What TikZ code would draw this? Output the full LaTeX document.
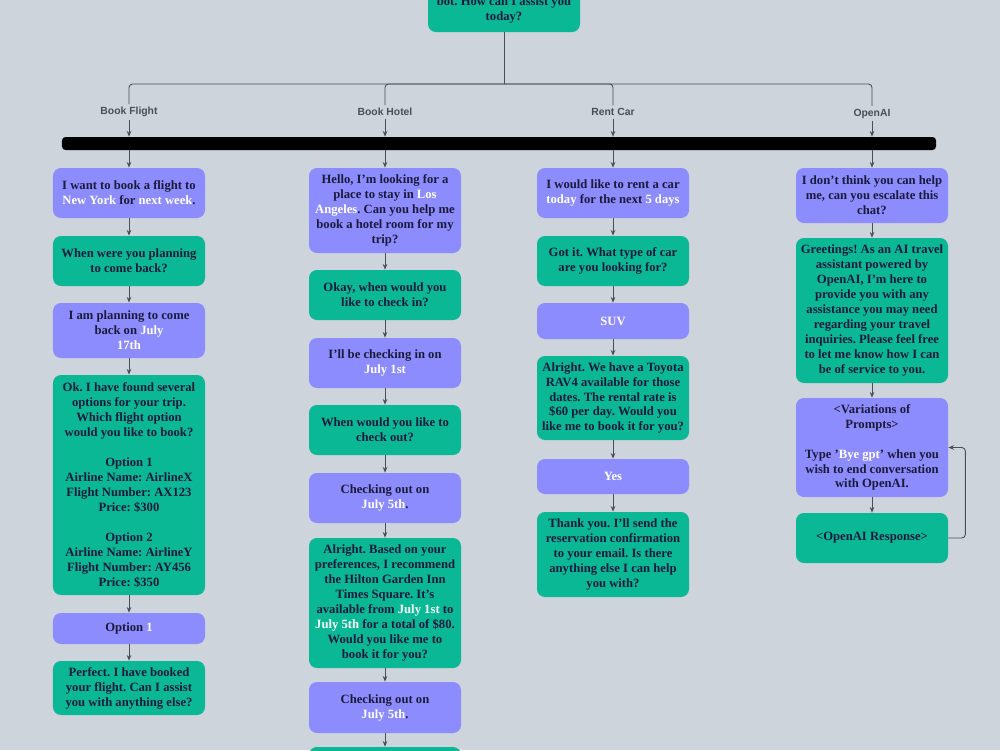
\documentclass[tikz,border=0pt]{standalone}
\usepackage{fontspec}
\setmainfont{Liberation Serif}
\setsansfont{Liberation Sans}
\usetikzlibrary{arrows.meta}
\frenchspacing
\definecolor{bgc}{HTML}{CED4DC}
\definecolor{grn}{HTML}{0BB895}
\definecolor{ppl}{HTML}{8C8CFF}
\definecolor{ink}{HTML}{1A1A3C}
\definecolor{lnc}{HTML}{4A4E56}
\tikzstyle{box}=[shape=rectangle, rounded corners=4.5pt, minimum width=3.04cm, inner sep=1pt, align=center, text=ink, font=\bfseries\fontsize{7.2}{8.5}\selectfont]
\tikzstyle{usr}=[box, fill=ppl]
\tikzstyle{bot}=[box, fill=grn]
\tikzstyle{lbl}=[font=\sffamily\bfseries\fontsize{5.9}{7}\selectfont, text=lnc, inner sep=1.5pt]
\tikzstyle{ln}=[draw=lnc, line width=.5pt]
\tikzstyle{arr}=[ln, -{Stealth[length=3.2pt, width=2.6pt]}]
\newcommand{\wt}[1]{\textcolor{white}{#1}}

\begin{document}
\begin{tikzpicture}[x=.2mm, y=-.2mm]
\useasboundingbox (0,0) rectangle (1000,750);
\clip (0,0) rectangle (1000,750);
\fill[bgc] (0,0) rectangle (1000,750);
%\draw[help lines,step=50] (0,0) grid (1000,750);
% start and menu
\node at (504,10)[bot, minimum height=.88cm](t){bot. How can I assist you\\today?};
\coordinate (j) at (504,84);
\node at (129,112)[lbl](lf){Book Flight};
\node at (385,112)[lbl](lh){Book Hotel};
\node at (613,112)[lbl](lr){Rent Car};
\node at (872,113.5)[lbl](lo){OpenAI};
\node at (499,143.5)[fill=black, rounded corners=2pt, minimum width=17.48cm, minimum height=.26cm, inner sep=0](bar){};
\draw[ln] (t)--(j);
\draw[ln, rounded corners=2pt] (j)-|(lf);
\draw[ln, rounded corners=2pt] (j)-|(lh);
\draw[ln, rounded corners=2pt] (j)-|(lr);
\draw[ln, rounded corners=2pt] (j)-|(lo);
\draw[arr] (lf)--(lf|-bar.north);
\draw[arr] (lh)--(lh|-bar.north);
\draw[arr] (lr)--(lr|-bar.north);
\draw[arr] (lo)--(lo|-bar.north);
% flight
\node at (129,193)[usr, minimum height=1cm](f1){I want to book a flight to\\\wt{New York} for \wt{next week}.};
\node at (129,261)[bot, minimum height=1cm](f2){When were you planning\\to come back?};
\node at (129,330.5)[usr, minimum height=1.1cm](f3){I am planning to come\\back on \wt{July}\\\wt{17th}};
\node at (129,485)[bot, minimum height=4.4cm](f4){Ok. I have found several\\options for your trip.\\Which flight option\\would you like to book?\\[8.5pt]Option 1\\Airline Name: AirlineX\\Flight Number: AX123\\Price: \$300\\[8.5pt]Option 2\\Airline Name: AirlineY\\Flight Number: AY456\\Price: \$350};
\node at (129,628.5)[usr, minimum height=.62cm](f5){Option \wt{1}};
\node at (129,688)[bot, minimum height=1.08cm](f6){Perfect. I have booked\\your flight. Can I assist\\you with anything else?};
\draw[arr] (lf|-bar.south)--(f1);
\draw[arr] (f1)--(f2);
\draw[arr] (f2)--(f3);
\draw[arr] (f3)--(f4);
\draw[arr] (f4)--(f5);
\draw[arr] (f5)--(f6);
% hotel
\node at (385,210.5)[usr, minimum height=1.7cm](h1){Hello, I'm looking for a\\place to stay in \wt{Los}\\\wt{Angeles}. Can you help me\\book a hotel room for my\\trip?};
\node at (385,295)[bot, minimum height=1cm](h2){Okay, when would you\\like to check in?};
\node at (385,363)[usr, minimum height=1cm](h3){I'll be checking in on\\\wt{July 1st}};
\node at (385,430)[bot, minimum height=1cm](h4){When would you like to\\check out?};
\node at (385,498)[usr, minimum height=1cm](h5){Checking out on\\\wt{July 5th}.};
\node at (385,603)[bot, minimum height=2.6cm](h6){Alright. Based on your\\preferences, I recommend\\the Hilton Garden Inn\\Times Square. It's\\available from \wt{July 1st} to\\\wt{July 5th} for a total of \$80.\\Would you like me to\\book it for you?};
\node at (385,707.5)[usr, minimum height=1.02cm](h7){Checking out on\\\wt{July 5th}.};
\node at (385,773.5)[bot, minimum height=1.06cm](h8){};
\draw[arr] (lh|-bar.south)--(h1);
\draw[arr] (h1)--(h2);
\draw[arr] (h2)--(h3);
\draw[arr] (h3)--(h4);
\draw[arr] (h4)--(h5);
\draw[arr] (h5)--(h6);
\draw[arr] (h6)--(h7);
\draw[arr] (h7)--(h8);
% car
\node at (613,193)[usr, minimum height=1cm](r1){I would like to rent a car\\\wt{today} for the next \wt{5 days}};
\node at (613,261)[bot, minimum height=1cm](r2){Got it. What type of car\\are you looking for?};
\node at (613,321)[usr, minimum height=.72cm](r3){\wt{SUV}};
\node at (613,398)[bot, minimum height=1.68cm](r4){Alright. We have a Toyota\\RAV4 available for those\\dates. The rental rate is\\\$60 per day. Would you\\like me to book it for you?};
\node at (613,476.5)[usr, minimum height=.7cm](r5){\wt{Yes}};
\node at (613,554.5)[bot, minimum height=1.7cm](r6){Thank you. I'll send the\\reservation confirmation\\to your email. Is there\\anything else I can help\\you with?};
\draw[arr] (lr|-bar.south)--(r1);
\draw[arr] (r1)--(r2);
\draw[arr] (r2)--(r3);
\draw[arr] (r3)--(r4);
\draw[arr] (r4)--(r5);
\draw[arr] (r5)--(r6);
% openai
\node at (872,195.5)[usr, minimum height=1.1cm](o1){I don't think you can help\\me, can you escalate this\\chat?};
\node at (872,310.5)[bot, minimum height=2.9cm](o2){Greetings! As an AI travel\\assistant powered by\\OpenAI, I'm here to\\provide you with any\\assistance you may need\\regarding your travel\\inquiries. Please feel free\\to let me know how I can\\be of service to you.};
\node at (872,447.5)[usr, minimum height=1.98cm](o3){<Variations of\\Prompts>\\[8.5pt]Type '\wt{Bye gpt}' when you\\wish to end conversation\\with OpenAI.};
\node at (872,538)[bot, minimum height=1cm](o4){<OpenAI Response>};
\draw[arr] (lo|-bar.south)--(o1);
\draw[arr] (o1)--(o2);
\draw[arr] (o2)--(o3);
\draw[arr] (o3)--(o4);
\draw[arr, rounded corners=2pt] (o4.east)--++(17,0)|-(o3.east);
\end{tikzpicture}
\end{document}
